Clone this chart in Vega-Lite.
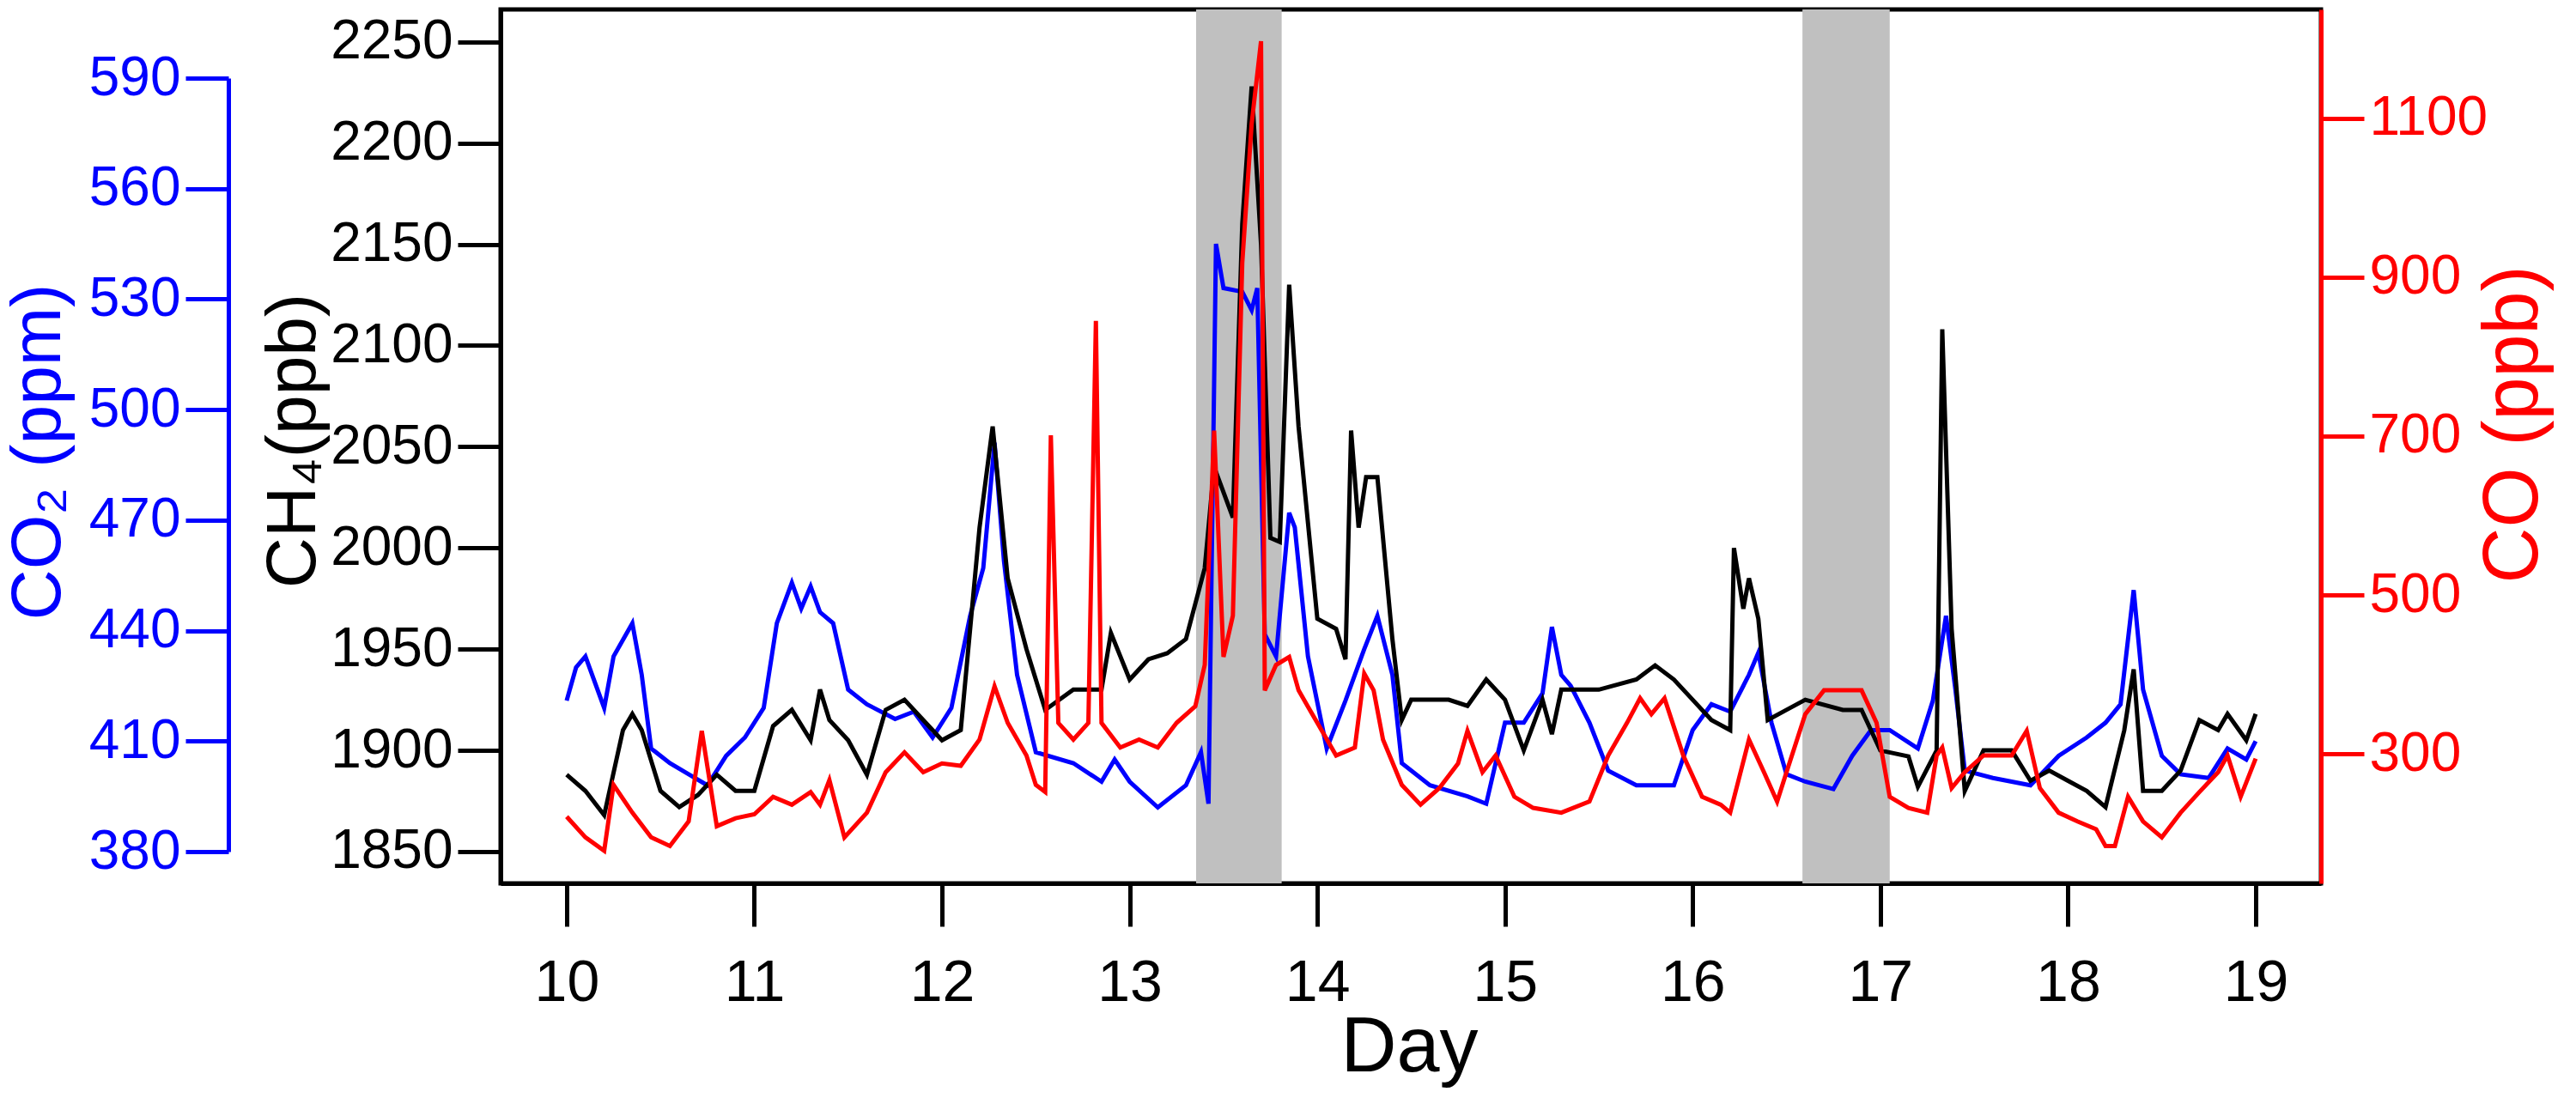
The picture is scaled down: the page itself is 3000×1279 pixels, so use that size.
{
  "$schema": "https://vega.github.io/schema/vega-lite/v6.json",
  "width": 2120,
  "height": 1018,
  "autosize": {"type": "none"},
  "padding": {"left": 583, "top": 11, "right": 297, "bottom": 250},
  "background": "white",
  "config": {
    "view": {"stroke": "black", "strokeWidth": 5},
    "font": "Liberation Sans",
    "axis": {
      "grid": false, "labelFont": "Liberation Sans", "titleFont": "Liberation Sans",
      "labelFontSize": 64, "titleFontSize": 82, "titleFontWeight": "normal",
      "tickSize": 50, "tickWidth": 5, "domainWidth": 5, "labelPadding": 6, "format": "d",
      "tickColor": "black", "domainColor": "black", "labelColor": "black"
    }
  },
  "datasets": {
    "bands": [{"start": 13.354, "end": 13.81}, {"start": 16.585, "end": 17.05}],
    "ch4": [
      {"day":10.0,"v":1888},{"day":10.1,"v":1880},{"day":10.2,"v":1868},{"day":10.3,"v":1910},{"day":10.35,"v":1918},{"day":10.4,"v":1910},{"day":10.5,"v":1880},{"day":10.6,"v":1872},{"day":10.7,"v":1878},{"day":10.8,"v":1888},{"day":10.9,"v":1880},{"day":11.0,"v":1880},{"day":11.1,"v":1912},{"day":11.2,"v":1920},{"day":11.3,"v":1905},{"day":11.35,"v":1930},{"day":11.4,"v":1915},{"day":11.5,"v":1905},{"day":11.6,"v":1888},{"day":11.7,"v":1920},{"day":11.8,"v":1925},{"day":11.9,"v":1915},{"day":12.0,"v":1905},{"day":12.1,"v":1910},{"day":12.2,"v":2010},{"day":12.27,"v":2060},{"day":12.35,"v":1985},{"day":12.45,"v":1950},{"day":12.55,"v":1920},{"day":12.7,"v":1930},{"day":12.85,"v":1930},{"day":12.9,"v":1958},{"day":13.0,"v":1935},{"day":13.1,"v":1945},{"day":13.2,"v":1948},{"day":13.3,"v":1955},{"day":13.4,"v":1990},{"day":13.45,"v":2040},{"day":13.55,"v":2015},{"day":13.6,"v":2160},{"day":13.65,"v":2228},{"day":13.7,"v":2150},{"day":13.75,"v":2005},{"day":13.8,"v":2003},{"day":13.85,"v":2130},{"day":13.9,"v":2060},{"day":14.0,"v":1965},{"day":14.1,"v":1960},{"day":14.15,"v":1945},{"day":14.18,"v":2058},{"day":14.22,"v":2010},{"day":14.26,"v":2035},{"day":14.32,"v":2035},{"day":14.4,"v":1955},{"day":14.45,"v":1915},{"day":14.5,"v":1925},{"day":14.7,"v":1925},{"day":14.8,"v":1922},{"day":14.9,"v":1935},{"day":15.0,"v":1925},{"day":15.1,"v":1900},{"day":15.2,"v":1925},{"day":15.25,"v":1908},{"day":15.3,"v":1930},{"day":15.5,"v":1930},{"day":15.7,"v":1935},{"day":15.8,"v":1942},{"day":15.9,"v":1935},{"day":16.0,"v":1925},{"day":16.1,"v":1915},{"day":16.2,"v":1910},{"day":16.22,"v":2000},{"day":16.27,"v":1970},{"day":16.3,"v":1985},{"day":16.35,"v":1965},{"day":16.4,"v":1915},{"day":16.5,"v":1920},{"day":16.6,"v":1925},{"day":16.8,"v":1920},{"day":16.9,"v":1920},{"day":17.0,"v":1900},{"day":17.15,"v":1897},{"day":17.2,"v":1882},{"day":17.3,"v":1900},{"day":17.33,"v":2108},{"day":17.38,"v":1960},{"day":17.45,"v":1880},{"day":17.55,"v":1900},{"day":17.7,"v":1900},{"day":17.8,"v":1885},{"day":17.9,"v":1890},{"day":18.0,"v":1885},{"day":18.1,"v":1880},{"day":18.2,"v":1872},{"day":18.3,"v":1910},{"day":18.35,"v":1940},{"day":18.4,"v":1880},{"day":18.5,"v":1880},{"day":18.6,"v":1890},{"day":18.7,"v":1915},{"day":18.8,"v":1910},{"day":18.85,"v":1918},{"day":18.95,"v":1905},{"day":19.0,"v":1918}
    ],
    "co2": [
      {"day":10.0,"v":421},{"day":10.05,"v":430},{"day":10.1,"v":433},{"day":10.2,"v":419},{"day":10.25,"v":433},{"day":10.35,"v":442},{"day":10.4,"v":428},{"day":10.45,"v":408},{"day":10.55,"v":404},{"day":10.65,"v":401},{"day":10.75,"v":398},{"day":10.85,"v":406},{"day":10.95,"v":411},{"day":11.05,"v":419},{"day":11.12,"v":442},{"day":11.2,"v":453},{"day":11.25,"v":446},{"day":11.3,"v":452},{"day":11.35,"v":445},{"day":11.42,"v":442},{"day":11.5,"v":424},{"day":11.6,"v":420},{"day":11.75,"v":416},{"day":11.85,"v":418},{"day":11.95,"v":411},{"day":12.05,"v":419},{"day":12.15,"v":444},{"day":12.22,"v":457},{"day":12.28,"v":491},{"day":12.33,"v":459},{"day":12.4,"v":428},{"day":12.5,"v":407},{"day":12.7,"v":404},{"day":12.85,"v":399},{"day":12.92,"v":405},{"day":13.0,"v":399},{"day":13.15,"v":392},{"day":13.3,"v":398},{"day":13.38,"v":407},{"day":13.42,"v":393},{"day":13.46,"v":545},{"day":13.5,"v":533},{"day":13.6,"v":532},{"day":13.65,"v":527},{"day":13.68,"v":533},{"day":13.72,"v":439},{"day":13.78,"v":433},{"day":13.85,"v":472},{"day":13.88,"v":468},{"day":13.95,"v":433},{"day":14.05,"v":408},{"day":14.15,"v":421},{"day":14.25,"v":435},{"day":14.32,"v":444},{"day":14.4,"v":428},{"day":14.45,"v":404},{"day":14.6,"v":398},{"day":14.8,"v":395},{"day":14.9,"v":393},{"day":15.0,"v":415},{"day":15.1,"v":415},{"day":15.2,"v":423},{"day":15.25,"v":441},{"day":15.3,"v":428},{"day":15.35,"v":425},{"day":15.45,"v":415},{"day":15.55,"v":402},{"day":15.7,"v":398},{"day":15.9,"v":398},{"day":16.0,"v":413},{"day":16.1,"v":420},{"day":16.2,"v":418},{"day":16.3,"v":428},{"day":16.35,"v":434},{"day":16.42,"v":415},{"day":16.5,"v":401},{"day":16.6,"v":399},{"day":16.75,"v":397},{"day":16.85,"v":406},{"day":16.95,"v":413},{"day":17.05,"v":413},{"day":17.2,"v":408},{"day":17.28,"v":421},{"day":17.35,"v":444},{"day":17.4,"v":424},{"day":17.45,"v":402},{"day":17.6,"v":400},{"day":17.8,"v":398},{"day":17.95,"v":406},{"day":18.1,"v":411},{"day":18.2,"v":415},{"day":18.28,"v":420},{"day":18.35,"v":451},{"day":18.4,"v":424},{"day":18.5,"v":406},{"day":18.6,"v":401},{"day":18.75,"v":400},{"day":18.85,"v":408},{"day":18.95,"v":405},{"day":19.0,"v":410}
    ],
    "co": [
      {"day":10.0,"v":221},{"day":10.1,"v":195},{"day":10.2,"v":178},{"day":10.25,"v":261},{"day":10.35,"v":226},{"day":10.45,"v":195},{"day":10.55,"v":184},{"day":10.65,"v":215},{"day":10.72,"v":329},{"day":10.8,"v":209},{"day":10.9,"v":219},{"day":11.0,"v":224},{"day":11.1,"v":246},{"day":11.2,"v":236},{"day":11.3,"v":252},{"day":11.35,"v":236},{"day":11.4,"v":267},{"day":11.48,"v":195},{"day":11.6,"v":226},{"day":11.7,"v":277},{"day":11.8,"v":302},{"day":11.9,"v":277},{"day":12.0,"v":288},{"day":12.1,"v":285},{"day":12.2,"v":318},{"day":12.28,"v":385},{"day":12.35,"v":339},{"day":12.45,"v":298},{"day":12.5,"v":261},{"day":12.55,"v":252},{"day":12.58,"v":701},{"day":12.62,"v":339},{"day":12.7,"v":318},{"day":12.78,"v":339},{"day":12.82,"v":845},{"day":12.85,"v":339},{"day":12.95,"v":308},{"day":13.05,"v":318},{"day":13.15,"v":308},{"day":13.25,"v":339},{"day":13.35,"v":360},{"day":13.4,"v":412},{"day":13.45,"v":707},{"day":13.5,"v":422},{"day":13.55,"v":474},{"day":13.6,"v":918},{"day":13.65,"v":1093},{"day":13.7,"v":1197},{"day":13.72,"v":380},{"day":13.78,"v":412},{"day":13.85,"v":422},{"day":13.9,"v":380},{"day":14.0,"v":339},{"day":14.1,"v":298},{"day":14.2,"v":308},{"day":14.25,"v":401},{"day":14.3,"v":380},{"day":14.35,"v":318},{"day":14.45,"v":261},{"day":14.55,"v":236},{"day":14.65,"v":257},{"day":14.75,"v":288},{"day":14.8,"v":329},{"day":14.88,"v":277},{"day":14.95,"v":298},{"day":15.05,"v":246},{"day":15.15,"v":232},{"day":15.3,"v":226},{"day":15.45,"v":240},{"day":15.55,"v":298},{"day":15.65,"v":339},{"day":15.72,"v":370},{"day":15.78,"v":350},{"day":15.85,"v":370},{"day":15.95,"v":298},{"day":16.05,"v":246},{"day":16.15,"v":236},{"day":16.2,"v":226},{"day":16.3,"v":318},{"day":16.38,"v":277},{"day":16.45,"v":240},{"day":16.5,"v":277},{"day":16.6,"v":350},{"day":16.7,"v":380},{"day":16.9,"v":380},{"day":16.98,"v":339},{"day":17.05,"v":246},{"day":17.15,"v":232},{"day":17.25,"v":226},{"day":17.3,"v":298},{"day":17.33,"v":308},{"day":17.38,"v":257},{"day":17.45,"v":277},{"day":17.55,"v":298},{"day":17.7,"v":298},{"day":17.78,"v":329},{"day":17.85,"v":257},{"day":17.95,"v":226},{"day":18.05,"v":215},{"day":18.15,"v":205},{"day":18.2,"v":184},{"day":18.25,"v":184},{"day":18.32,"v":246},{"day":18.4,"v":215},{"day":18.5,"v":195},{"day":18.6,"v":226},{"day":18.7,"v":252},{"day":18.8,"v":277},{"day":18.85,"v":298},{"day":18.92,"v":246},{"day":19.0,"v":294}
    ]
  },
  "layer": [
    {
      "data": {"name": "bands"},
      "mark": {"type": "rect", "color": "#c0c0c0"},
      "encoding": {
        "x": {"field": "start", "type": "quantitative", "scale": {"domain": [9.648, 19.348], "nice": false, "zero": false},
              "axis": {"title": "Day", "values": [10,11,12,13,14,15,16,17,18,19], "labelPadding": 32, "labelFontSize": 68, "titleFontSize": 90,
                       "titleX": 1058, "titleY": 191, "titleBaseline": "middle"}},
        "x2": {"field": "end"}
      }
    },
    {
      "data": {"name": "co2"},
      "mark": {"type": "line", "color": "#0000ff", "strokeWidth": 5},
      "encoding": {
        "x": {"field": "day", "type": "quantitative"},
        "y": {"field": "v", "type": "quantitative",
              "scale": {"domain": [380, 590], "range": [981, 80], "nice": false, "zero": false},
              "axis": {"orient": "left", "offset": 317, "title": "CO₂ (ppm)", "values": [380,410,440,470,500,530,560,590],
                       "domainColor": "#0000ff", "tickColor": "#0000ff", "labelColor": "#0000ff", "titleColor": "#0000ff",
                       "titleX": -222, "titleY": 515, "titleBaseline": "middle", "titleAngle": 270}}
      }
    },
    {
      "data": {"name": "ch4"},
      "mark": {"type": "line", "color": "black", "strokeWidth": 5},
      "encoding": {
        "x": {"field": "day", "type": "quantitative"},
        "y": {"field": "v", "type": "quantitative",
              "scale": {"domain": [1834.3, 2266], "nice": false, "zero": false},
              "axis": {"orient": "left", "title": "CH₄(ppb)", "values": [1850,1900,1950,2000,2050,2100,2150,2200,2250],
                       "titleX": -242, "titleY": 502, "titleBaseline": "middle", "titleAngle": 270}}
      }
    },
    {
      "data": {"name": "co"},
      "mark": {"type": "line", "color": "#ff0000", "strokeWidth": 5},
      "encoding": {
        "x": {"field": "day", "type": "quantitative"},
        "y": {"field": "v", "type": "quantitative",
              "scale": {"domain": [137, 1237], "nice": false, "zero": false},
              "axis": {"orient": "right", "title": "CO (ppb)", "values": [300,500,700,900,1100],
                       "domainColor": "#ff0000", "tickColor": "#ff0000", "labelColor": "#ff0000", "titleColor": "#ff0000",
                       "titleX": 224, "titleY": 483, "titleBaseline": "middle", "titleAngle": 270, "titleFontSize": 90}}
      }
    }
  ],
  "resolve": {"scale": {"y": "independent"}, "axis": {"y": "independent"}}
}
